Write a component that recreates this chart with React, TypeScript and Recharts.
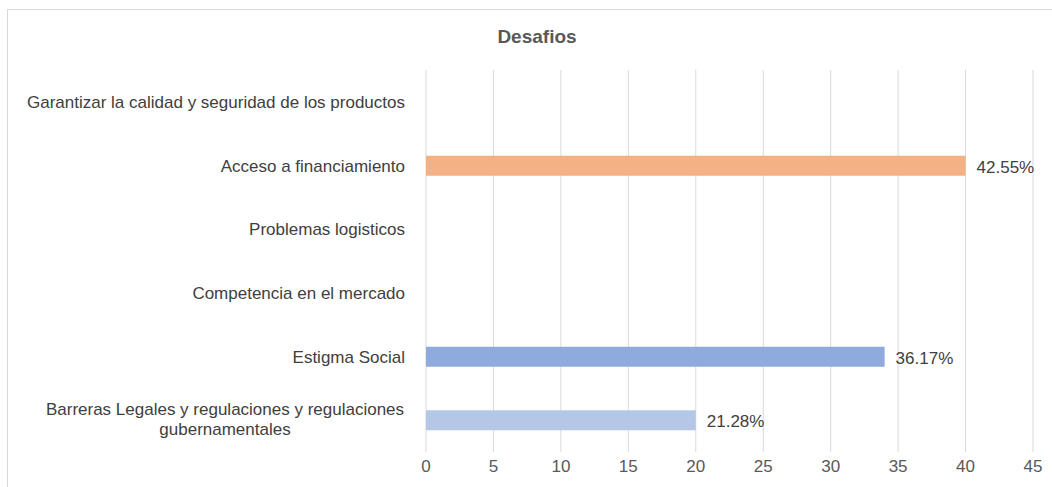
import { BarChart, Bar, XAxis, YAxis, CartesianGrid, Cell, LabelList } from "recharts";

const categories = [
  "Garantizar la calidad y seguridad de los productos",
  "Acceso a financiamiento",
  "Problemas logisticos",
  "Competencia en el mercado",
  "Estigma Social",
  "Barreras Legales y regulaciones y regulaciones gubernamentales",
];
const barValues = [0, 40, 0, 0, 34, 20];
const pctLabels = ["", "42.55%", "", "", "36.17%", "21.28%"];
const barColors = ["#F4B183", "#F4B183", "#A9D18E", "#FFD966", "#8FAADC", "#B4C7E7"];
const xTicks = [0, 5, 10, 15, 20, 25, 30, 35, 40, 45];

const data = categories.map((name, i) => ({
  name,
  value: barValues[i],
  label: pctLabels[i],
}));

const FONT = "'Liberation Sans', Arial, sans-serif";
const TEXT = "#404040";

function CategoryTick({ x, y, payload }: any) {
  const text: string = payload.value;
  if (text.length > 55) {
    const cut = text.lastIndexOf(" ");
    const lines = [text.slice(0, cut), text.slice(cut + 1)];
    return (
      <text x={x - 180} y={y} textAnchor="middle" fill={TEXT} fontSize={17} fontFamily={FONT}>
        <tspan x={x - 180} dy={-5}>{lines[0]}</tspan>
        <tspan x={x - 180} dy={20}>{lines[1]}</tspan>
      </text>
    );
  }
  return (
    <text x={x} y={y} dy={6} textAnchor="end" fill={TEXT} fontSize={17} fontFamily={FONT}>
      {text}
    </text>
  );
}

function ValueLabel({ x, y, width, height, value }: any) {
  if (!value) return null;
  return (
    <text x={x + width + 11} y={y + height / 2 + 7} fill={TEXT} fontSize={17} fontFamily={FONT}>
      {value}
    </text>
  );
}

export default function App() {
  return (
    <div style={{ position: "fixed", left: 0, top: 0, width: 1052, height: 487, background: "#fff", overflow: "hidden" }}>
      <div
        style={{
          position: "absolute",
          left: 7,
          top: 9,
          width: 1100,
          height: 600,
          border: "1px solid #d9d9d9",
        }}
      />
      <div
        style={{
          position: "absolute",
          left: 0,
          top: 26,
          width: 1074,
          textAlign: "center",
          fontFamily: FONT,
          fontWeight: "bold",
          fontSize: 19,
          color: "#595959",
        }}
      >
        Desafios
      </div>
      <div style={{ position: "absolute", left: 0, top: 0 }}>
        <BarChart
          width={1052}
          height={487}
          data={data}
          layout="vertical"
          margin={{ top: 70, right: 19, bottom: 0, left: 0 }}
          barSize={20}
        >
          <CartesianGrid horizontal={false} stroke="#d9d9d9" />
          <XAxis
            type="number"
            domain={[0, 45]}
            ticks={xTicks}
            axisLine={false}
            tickLine={false}
            tick={{ fill: "#595959", fontSize: 17, fontFamily: FONT }}
            height={35}
          />
          <YAxis
            type="category"
            dataKey="name"
            width={426}
            axisLine={false}
            tickLine={false}
            tick={<CategoryTick />}
            tickMargin={15}
            interval={0}
          />
          <Bar dataKey="value" isAnimationActive={false}>
            {data.map((d, i) => (
              <Cell key={d.name} fill={barColors[i]} />
            ))}
            <LabelList dataKey="label" content={<ValueLabel />} />
          </Bar>
        </BarChart>
      </div>
    </div>
  );
}
